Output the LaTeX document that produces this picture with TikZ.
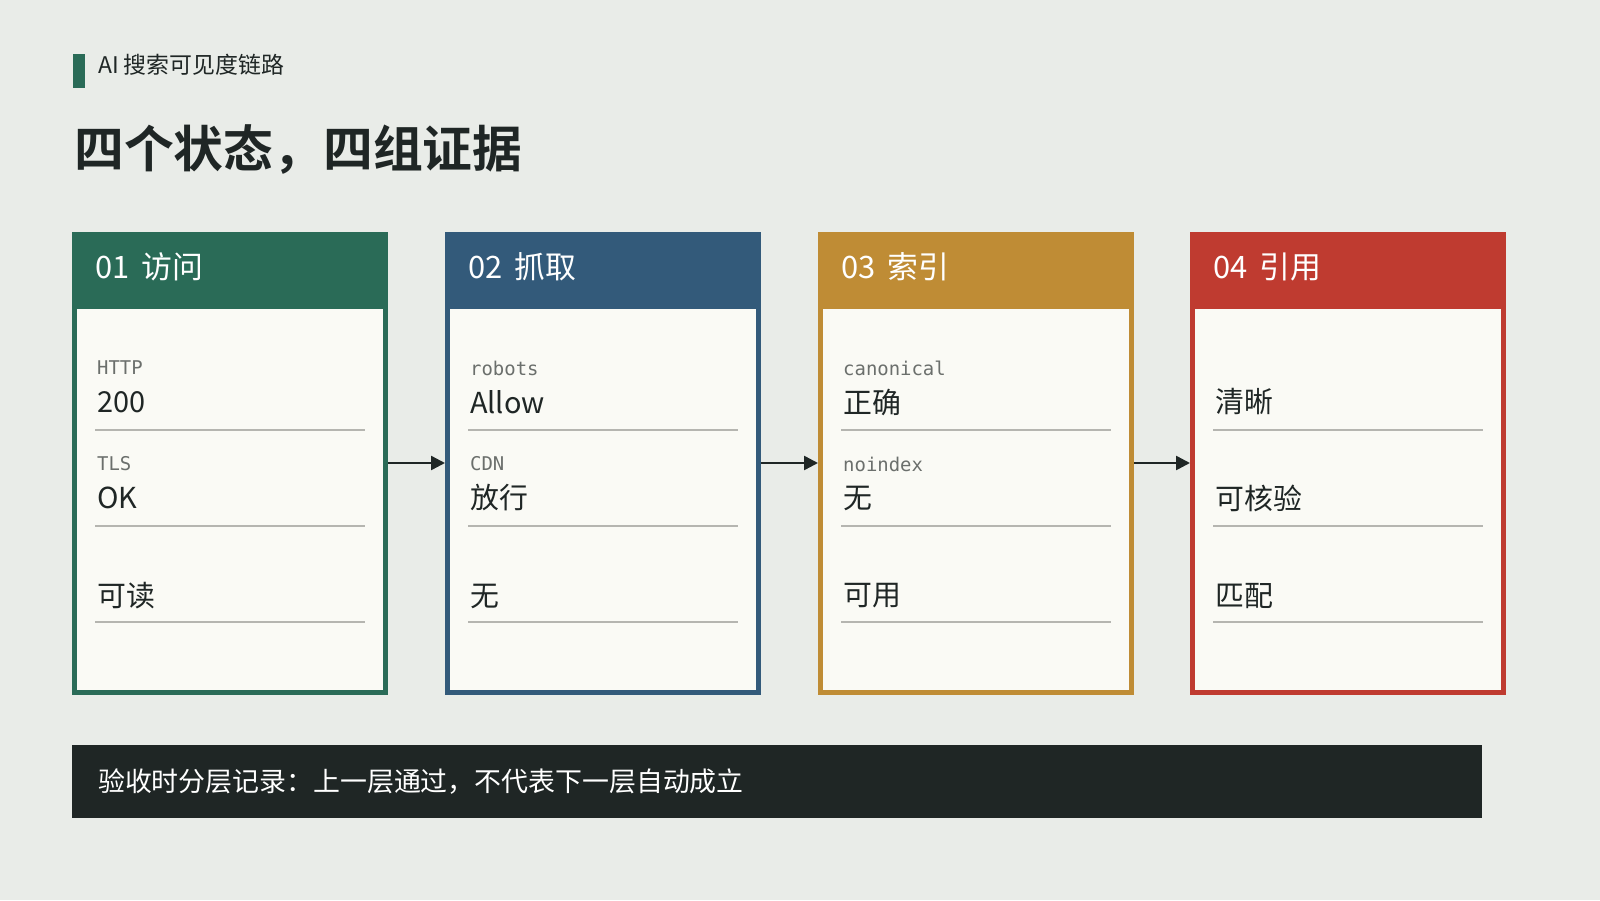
\documentclass[tikz,border=0pt]{standalone}
\usepackage{fontspec}
\setmainfont{Noto Sans CJK SC}
\newfontfamily\cjkb{Noto Sans CJK SC Bold}
\newfontfamily\monof{DejaVu Sans Mono}
\usetikzlibrary{arrows.meta}
\definecolor{bg}{HTML}{E9ECE8}
\definecolor{cw}{HTML}{FAFAF5}
\definecolor{cg}{HTML}{2A6B57}
\definecolor{cb}{HTML}{335A7A}
\definecolor{cy}{HTML}{BF8C35}
\definecolor{cr}{HTML}{BF3B30}
\definecolor{dk}{HTML}{1F2625}
\definecolor{gl}{HTML}{B5B5B0}
\definecolor{tx}{HTML}{1F2625}
\definecolor{lb}{HTML}{6B6F6C}
\tikzset{
 lab/.style={anchor=west,inner sep=0,font=\monof\fontsize{19}{19}\selectfont,text=lb},
 val/.style={anchor=west,inner sep=0,font=\fontsize{29}{29}\selectfont,text=tx},
 hd/.style={anchor=west,inner sep=0,font=\fontsize{31}{31}\selectfont,text=white},
 rule/.style={draw=gl,line width=1.5bp},
 arr/.style={line width=2.5bp,draw=tx,-{Triangle[length=14bp,width=14bp]}}
}
\newcommand{\card}[9]{% #1 x, #2 color, #3 name, #4 header, #5 lab1,#6 val1,#7 lab2,#8 val2,#9 val3
 \fill[#2] (#1,232) rectangle ++(316,463);
 \fill[cw] (#1+5,309) rectangle (#1+311,690);
 \coordinate (#3w) at (#1,463); \coordinate (#3e) at (#1+316,463);
 \node[hd] (#3h) at (#1+23,267) {#4};
 \node[lab] (#3l1) at (#1+25,368) {#5};
 \node[val] (#3v1) at (#1+25,402) {#6};
 \draw[rule] (#1+23,430) -- (#1+293,430);
 \node[lab] (#3l2) at (#1+25,464) {#7};
 \node[val] (#3v2) at (#1+25,498) {#8};
 \draw[rule] (#1+23,526) -- (#1+293,526);
 \node[val] (#3v3) at (#1+25,596) {#9};
 \draw[rule] (#1+23,622) -- (#1+293,622);
}
\begin{document}
\begin{tikzpicture}[x=1bp,y=-1bp]
\fill[bg] (0,0) rectangle (1600,900);
\useasboundingbox (0,0) rectangle (1600,900);
\fill[cg] (73,54) rectangle (85,88);
\node[anchor=west,inner sep=0,font=\fontsize{23}{23}\selectfont,text=tx] (kick) at (98,65) {AI 搜索可见度链路};
\node[anchor=west,inner sep=0,font=\cjkb\fontsize{50}{50}\selectfont,text=tx] (title) at (74,150) {四个状态，四组证据};
\card{72}{cg}{a}{01\hspace{12bp}访问}{HTTP}{200}{TLS}{OK}{可读}
\card{445}{cb}{b}{02\hspace{12bp}抓取}{robots}{Allow}{CDN}{放行}{无}
\card{818}{cy}{c}{03\hspace{12bp}索引}{canonical}{正确}{noindex}{无}{可用}
\card{1190}{cr}{d}{04\hspace{12bp}引用}{}{清晰}{}{可核验}{匹配}
\draw[arr] (ae) -- (bw);
\draw[arr] (be) -- (cw);
\draw[arr] (ce) -- (dw);
\fill[dk] (72,745) rectangle (1482,818);
\node[anchor=west,inner sep=0,font=\fontsize{27}{27}\selectfont,text=white] (foot) at (98,782) {验收时分层记录：上一层通过，不代表下一层自动成立};
\end{tikzpicture}
\end{document}
